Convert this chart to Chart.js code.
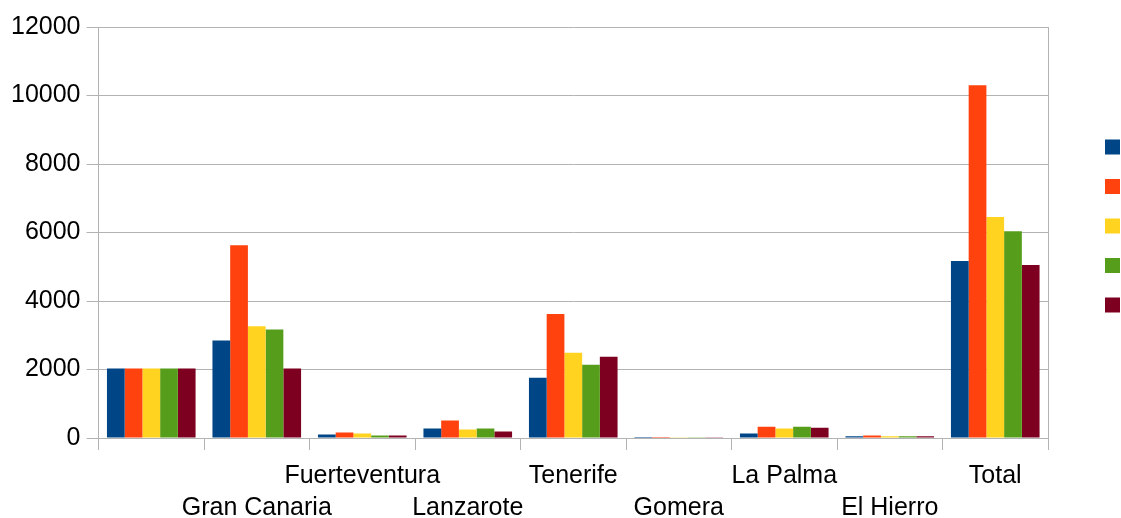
<!DOCTYPE html>
<html>
<head>
<meta charset="utf-8">
<script src="https://cdn.jsdelivr.net/npm/chart.js@4/dist/chart.umd.min.js"></script>
<style>
  body { margin: 0; background: #fff; }
</style>
</head>
<body>
<canvas id="chart" width="1121" height="518"></canvas>
<script>
const categories = ["", "Gran Canaria", "Fuerteventura", "Lanzarote", "Tenerife", "Gomera", "La Palma", "El Hierro", "Total"];
const yTicks = [0, 2000, 4000, 6000, 8000, 10000, 12000];

const serie1 = [2030, 2850, 100, 280, 1760, 30, 130, 50, 5170];
const serie2 = [2030, 5630, 160, 510, 3620, 30, 330, 75, 10300];
const serie3 = [2030, 3260, 130, 250, 2490, 25, 280, 50, 6450];
const serie4 = [2030, 3170, 75, 280, 2140, 25, 330, 50, 6040];
const serie5 = [2030, 2030, 75, 190, 2370, 25, 300, 50, 5050];

const colors = ["#004586", "#ff420e", "#ffd320", "#579d1c", "#7e0021"];
const gridColor = "#b3b3b3";

// right frame line + legend squares (no text, like the original)
const frameAndLegend = {
  id: "frameAndLegend",
  beforeDatasetsDraw(chart) {
    const ctx = chart.ctx;
    const area = chart.chartArea;
    const x = Math.round(area.right) + 0.5;
    ctx.save();
    ctx.strokeStyle = gridColor;
    ctx.lineWidth = 1;
    ctx.beginPath();
    ctx.moveTo(x, area.top);
    ctx.lineTo(x, area.bottom + 12);
    ctx.stroke();
    ctx.restore();
  },
  afterDraw(chart) {
    const ctx = chart.ctx;
    const area = chart.chartArea;
    const cy = area.top + 199;
    ctx.save();
    chart.data.datasets.forEach((ds, i) => {
      ctx.fillStyle = ds.backgroundColor;
      ctx.fillRect(area.right + 57, cy + (i - 2) * 39.5 - 7.5, 15, 15);
    });
    ctx.restore();
  }
};

const series = [serie1, serie2, serie3, serie4, serie5];

new Chart(document.getElementById("chart"), {
  type: "bar",
  data: {
    labels: categories,
    datasets: series.map((s, i) => ({
      label: "",
      data: s,
      backgroundColor: colors[i],
      borderWidth: 0,
      categoryPercentage: 0.84,
      barPercentage: 1.0
    }))
  },
  options: {
    responsive: false,
    animation: false,
    devicePixelRatio: 1,
    layout: { padding: { left: 5, right: 73, top: 27, bottom: -16 } },
    plugins: {
      legend: { display: false },
      tooltip: { enabled: false }
    },
    scales: {
      x: {
        offset: true,
        grid: { offset: true, color: gridColor, tickLength: 12, lineWidth: 1, drawOnChartArea: false },
        border: { color: gridColor },
        ticks: {
          autoSkip: false,
          maxRotation: 0,
          padding: 10,
          color: "#000",
          font: { family: "'Liberation Sans', Arial, sans-serif", size: 25, lineHeight: 1.28 },
          callback: (v, i) => (i % 2 === 0 ? [categories[i], ""] : ["", categories[i]])
        }
      },
      y: {
        min: yTicks[0],
        max: yTicks[yTicks.length - 1],
        afterBuildTicks: (axis) => { axis.ticks = yTicks.map(v => ({ value: v })); },
        grid: { color: gridColor, tickLength: 12, lineWidth: 1 },
        border: { color: gridColor },
        ticks: {
          padding: 6,
          color: "#000",
          font: { family: "'Liberation Sans', Arial, sans-serif", size: 25 },
          callback: (v) => String(v)
        }
      }
    }
  },
  plugins: [frameAndLegend]
});
</script>
</body>
</html>
